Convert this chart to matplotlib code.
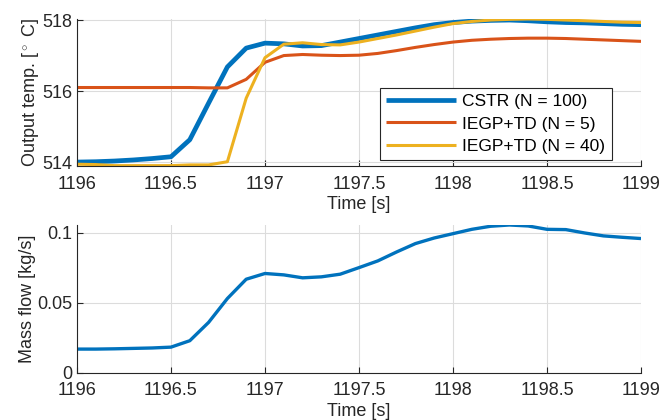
import matplotlib
matplotlib.use("Agg")
import matplotlib.pyplot as plt
import numpy as np

plt.rcParams["font.family"] = ["Liberation Sans", "DejaVu Sans"]
plt.rcParams["mathtext.fontset"] = "custom"
plt.rcParams["mathtext.rm"] = "Liberation Sans"
plt.rcParams["mathtext.it"] = "Liberation Sans:italic"

time = np.round(np.arange(1196.0, 1199.01, 0.1), 1)

temp_cstr = [514.00, 514.01, 514.03, 514.06, 514.10, 514.15, 514.63, 515.66, 516.68, 517.21,
             517.35, 517.33, 517.27, 517.28, 517.38, 517.48, 517.58, 517.68, 517.78, 517.87,
             517.93, 517.97, 517.99, 518.00, 517.98, 517.95, 517.93, 517.92, 517.90, 517.88,
             517.87]
temp_iegp5 = [516.10, 516.10, 516.10, 516.10, 516.10, 516.10, 516.10, 516.09, 516.09, 516.33,
              516.81, 517.00, 517.03, 517.01, 517.00, 517.01, 517.06, 517.14, 517.23, 517.31,
              517.38, 517.43, 517.46, 517.48, 517.49, 517.49, 517.48, 517.46, 517.44, 517.42,
              517.40]
temp_iegp40 = [513.94, 513.93, 513.90, 513.90, 513.90, 513.90, 513.92, 513.92, 514.01, 515.80,
               516.94, 517.32, 517.36, 517.31, 517.30, 517.38, 517.48, 517.58, 517.69, 517.80,
               517.90, 517.96, 518.00, 518.02, 518.03, 518.02, 518.00, 517.98, 517.96, 517.94,
               517.93]
mass_flow = [0.0169, 0.0169, 0.0171, 0.0174, 0.0177, 0.0183, 0.0229, 0.0360, 0.0531, 0.0669,
             0.0710, 0.0700, 0.0679, 0.0686, 0.0705, 0.0752, 0.0800, 0.0864, 0.0924, 0.0964,
             0.0995, 0.1026, 0.1048, 0.1057, 0.1050, 0.1026, 0.1024, 0.1000, 0.0979, 0.0969,
             0.0960]

BLUE = "#0072BD"
ORANGE = "#D95319"
YELLOW = "#EDB120"
AXIS = "#262626"
FS = 13


def style_ax(ax):
    for side in ("top", "right"):
        ax.spines[side].set_visible(False)
    for side in ("left", "bottom"):
        ax.spines[side].set_color(AXIS)
        ax.spines[side].set_linewidth(0.8)
    ax.tick_params(direction="in", colors=AXIS, labelsize=FS, length=4, width=0.8)
    ax.tick_params(axis="x", pad=7)
    ax.tick_params(axis="y", pad=3.5)
    ax.grid(True, color="#dcdcdc", linewidth=0.8)
    ax.set_axisbelow(True)
    ax.set_xlim(1196, 1199)
    ax.set_xticks([1196, 1196.5, 1197, 1197.5, 1198, 1198.5, 1199])
    ax.set_xticklabels(["1196", "1196.5", "1197", "1197.5", "1198", "1198.5", "1199"])
    ax.set_xlabel("Time [s]", fontsize=FS, color=AXIS, labelpad=2.5)


fig = plt.figure(figsize=(6.62, 4.20), dpi=100)
ax1 = fig.add_axes([0.1163, 0.6048, 0.8520, 0.3500])
ax2 = fig.add_axes([0.1163, 0.1126, 0.8520, 0.3517])

line_kw = dict(solid_joinstyle="round", solid_capstyle="butt")
ax1.plot(time, temp_cstr, color=BLUE, lw=3.4, label="CSTR (N = 100)", **line_kw)
ax1.plot(time, temp_iegp5, color=ORANGE, lw=2.2, label="IEGP+TD (N = 5)", **line_kw)
ax1.plot(time, temp_iegp40, color=YELLOW, lw=2.2, label="IEGP+TD (N = 40)", **line_kw)
style_ax(ax1)
lo = min(min(temp_cstr), min(temp_iegp5), min(temp_iegp40))
hi = max(max(temp_cstr), max(temp_iegp5), max(temp_iegp40))
ax1.set_ylim(lo - 0.01, hi)
ax1.set_yticks([514, 516, 518])
ax1.set_ylabel(r"Output temp. [$^\circ$ C]", fontsize=FS, color=AXIS, labelpad=1)
leg = ax1.legend(loc="lower right", bbox_to_anchor=(0.957, 0.005), fontsize=FS - 0.5,
                 handlelength=4.0, handletextpad=0.4, borderpad=0.35, labelspacing=0.42,
                 borderaxespad=0.3, fancybox=False, framealpha=1, edgecolor=AXIS)
leg.get_frame().set_linewidth(0.8)

ax2.plot(time, mass_flow, color=BLUE, lw=2.4, **line_kw)
style_ax(ax2)
ax2.set_ylim(0, max(mass_flow))
ax2.set_yticks([0, 0.05, 0.1])
ax2.set_yticklabels(["0", "0.05", "0.1"])
ax2.set_ylabel("Mass flow [kg/s]", fontsize=FS, color=AXIS, labelpad=1)

fig.savefig("out.png", dpi=100)
